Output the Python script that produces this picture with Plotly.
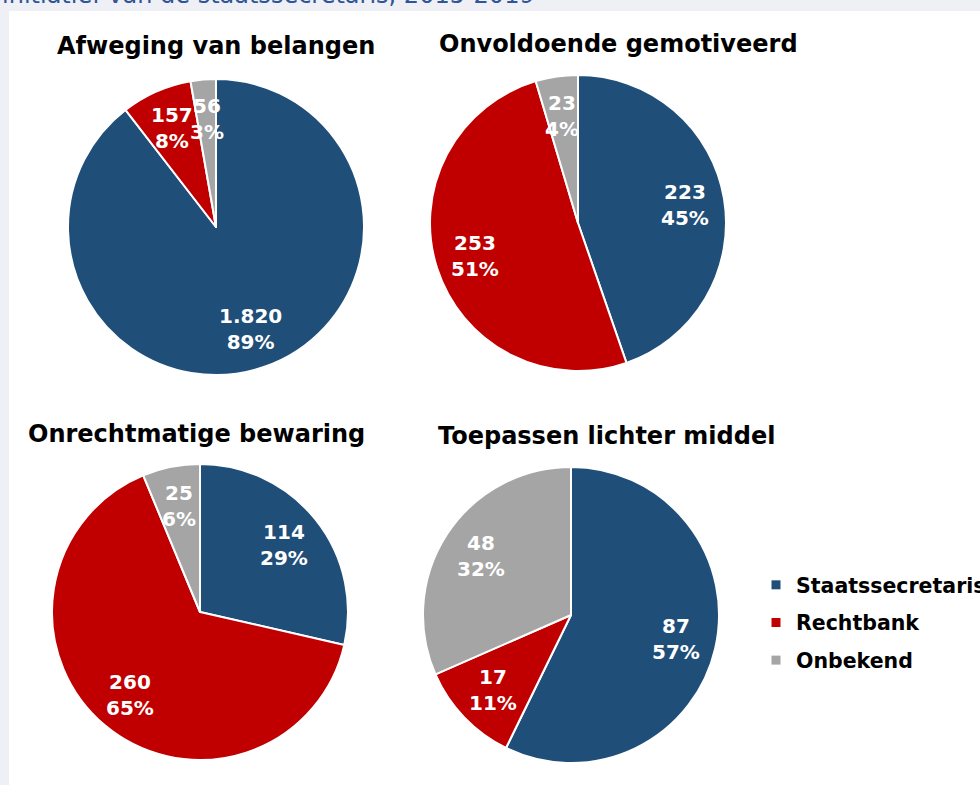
import math
import plotly.graph_objects as go

categories = ["Staatssecretaris", "Rechtbank", "Onbekend"]
colors = ["#1f4e79", "#c00000", "#a5a5a5"]

titles = ["Afweging van belangen", "Onvoldoende gemotiveerd",
          "Onrechtmatige bewaring", "Toepassen lichter middel"]
values_afweging = [1820, 157, 56]
values_onvoldoende = [223, 253, 23]
values_onrechtmatig = [114, 260, 25]
values_lichter = [87, 17, 48]
pct_afweging = ["89%", "8%", "3%"]
pct_onvoldoende = ["45%", "51%", "4%"]
pct_onrechtmatig = ["29%", "65%", "6%"]
pct_lichter = ["57%", "11%", "32%"]

all_values = [values_afweging, values_onvoldoende, values_onrechtmatig, values_lichter]
all_pcts = [pct_afweging, pct_onvoldoende, pct_onrechtmatig, pct_lichter]

W, H = 980, 785
centers = [(216, 227), (578, 223), (200, 612), (571, 615)]
R = 148
LABEL_R = 0.73 * R
title_pos = [(216, 46), (618, 44), (196, 434), (606, 436)]


def fmt_nl(v):
    return f"{v:,}".replace(",", ".")


fig = go.Figure()
annotations = []
for i, (vals, pcts) in enumerate(zip(all_values, all_pcts)):
    cx, cy = centers[i]
    fig.add_trace(go.Pie(
        labels=categories, values=vals, customdata=pcts,
        sort=False, direction="clockwise", rotation=0,
        marker=dict(colors=colors, line=dict(color="white", width=2)),
        textinfo="none",
        hovertemplate="%{label}: %{value:,} (%{customdata})<extra></extra>",
        showlegend=False,
        domain=dict(x=[(cx - R) / W, (cx + R) / W], y=[1 - (cy + R) / H, 1 - (cy - R) / H]),
    ))
    total = sum(vals)
    cum = 0
    for v, p in zip(vals, pcts):
        mid = (cum + v / 2) / total * 2 * math.pi
        cum += v
        lx = cx + LABEL_R * math.sin(mid)
        ly = cy - LABEL_R * math.cos(mid)
        annotations.append(dict(
            text=f"<b>{fmt_nl(v)}<br>{p}</b>", x=lx / W, y=1 - ly / H,
            xref="paper", yref="paper", showarrow=False, xanchor="center", yanchor="middle",
            align="center",
            font=dict(family="DejaVu Sans", size=20, color="white")))

# legend entries
for cat, col in zip(categories, colors):
    fig.add_trace(go.Scatter(
        x=[None], y=[None], mode="markers", name=cat, legendgroup=cat,
        marker=dict(symbol="square", size=9, color=col), showlegend=True, hoverinfo="skip"))

for t, (tx, ty) in zip(titles, title_pos):
    annotations.append(dict(text="<b>" + t + "</b>", x=tx / W, y=1 - ty / H, xref="paper", yref="paper",
                            showarrow=False, xanchor="center", yanchor="middle",
                            font=dict(family="DejaVu Sans", size=24, color="black")))
annotations.append(dict(text="initiatief van de staatssecretaris, 2015-2019", x=0.0, y=1 - 11 / H,
                        xref="paper", yref="paper", showarrow=False, xanchor="left", yanchor="bottom",
                        font=dict(family="DejaVu Sans", size=24, color="#2f5597")))

shapes = [
    dict(type="rect", xref="paper", yref="paper", x0=0, x1=1, y0=1 - 11 / H, y1=1,
         fillcolor="#eff0f6", line=dict(width=0), layer="below"),
    dict(type="rect", xref="paper", yref="paper", x0=0, x1=9 / W, y0=0, y1=1,
         fillcolor="#eff0f6", line=dict(width=0), layer="below"),
]

fig.update_layout(
    width=W, height=H, margin=dict(l=0, r=0, t=0, b=0, autoexpand=False),
    paper_bgcolor="white", plot_bgcolor="white",
    xaxis=dict(visible=False), yaxis=dict(visible=False),
    annotations=annotations, shapes=shapes,
    legend=dict(x=756 / W, y=1 - 565 / H, xanchor="left", yanchor="top",
                font=dict(family="DejaVu Sans", size=20.5, color="black", weight="bold"),
                tracegroupgap=8, itemwidth=30, itemsizing="trace", bgcolor="rgba(0,0,0,0)"),
)

fig.write_html("out.html", config={"displayModeBar": False},
               post_script="document.body.style.margin='0';")
